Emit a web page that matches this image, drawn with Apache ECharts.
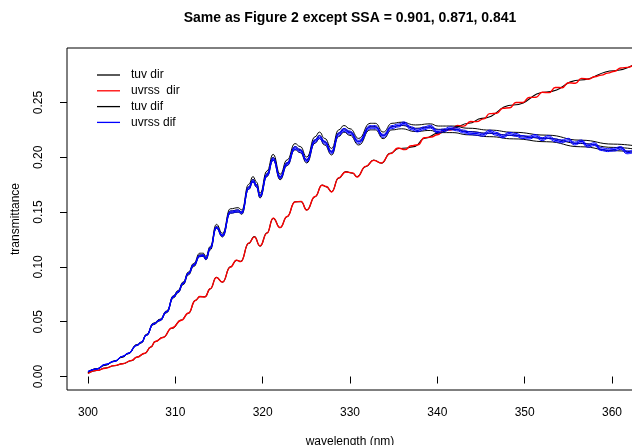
<!DOCTYPE html>
<html>
<head>
<meta charset="utf-8">
<script src="https://cdn.jsdelivr.net/npm/echarts@6/dist/echarts.min.js"></script>
<style>html,body{margin:0;padding:0;background:#fff}#c{width:632px;height:445px}</style>
</head>
<body>
<div id="c"></div>
<script>
// ---- data ----
var xTicks = [300, 310, 320, 330, 340, 350, 360];
var yTicks = [0, 0.05, 0.10, 0.15, 0.20, 0.25];
var legendNames = ['tuv dir', 'uvrss  dir', 'tuv dif', 'uvrss dif'];

// direct transmittance (tuv)
var dirWl = [300,301,302,303,304,305,305.6,306.5,307.2,307.7,308.6,309.6,310.7,311.5,312.3,312.8,313.4,314.0,314.7,315.4,316.3,317.0,317.5,318.4,319.05,319.7,320.5,321.2,322.0,322.8,323.7,324.4,325.05,326.0,326.8,327.3,327.9,328.7,329.5,330.3,330.8,331.8,332.7,333.6,334.6,335.6,336.5,337.3,338.6,340.1,341.7,343.6,345.1,348.7,352.5,356.4,360.2,362.5];
var tuvDir = [0.003,0.0055,0.0078,0.0098,0.0118,0.0145,0.0178,0.021,0.027,0.0318,0.0358,0.044,0.0516,0.0577,0.0695,0.0728,0.0728,0.080,0.0905,0.086,0.100,0.106,0.105,0.1215,0.1276,0.119,0.131,0.1443,0.136,0.1458,0.1595,0.1595,0.152,0.164,0.1747,0.173,0.1686,0.181,0.1869,0.1855,0.1823,0.1914,0.1975,0.1945,0.2036,0.208,0.2085,0.2097,0.2173,0.222,0.2265,0.231,0.2355,0.2477,0.2596,0.2705,0.279,0.2845];

// direct transmittance (uvrss), noisy tail
var uvDirWl = [300,301,302,303,304,305,305.6,306.5,307.2,307.7,308.6,309.6,310.7,311.5,312.3,312.8,313.4,314.0,314.7,315.4,316.3,317.0,317.5,318.4,319.05,319.7,320.5,321.2,322.0,322.8,323.7,324.4,325.05,326.0,326.8,327.3,327.9,328.7,329.5,330.3,330.8,331.8,332.7,333.6,334.6,
  335.5,336.3,337,337.8,338.5,339.3,340,340.8,341.5,342.3,343,343.8,344.5,345.3,346,346.8,347.5,348.3,349,349.8,350.5,351.3,352,352.8,353.5,354.3,355,355.8,356.5,357.3,358,358.8,359.5,360.3,361,361.8,362.5];
var uvrssDir = [0.0028,0.0056,0.0076,0.0099,0.0117,0.0147,0.0176,0.0212,0.0268,0.032,0.0356,0.0442,0.0514,0.0579,0.0693,0.073,0.0726,0.0802,0.0903,0.0862,0.0998,0.1062,0.1048,0.1217,0.1274,0.1192,0.1308,0.1445,0.1358,0.146,0.1592,0.1598,0.1518,0.1642,0.1745,0.1733,0.1684,0.1812,0.1866,0.1858,0.182,0.1917,0.1972,0.1948,0.2033,
  0.2085,0.207,0.2105,0.2115,0.2178,0.2185,0.2205,0.2252,0.2248,0.229,0.2284,0.2326,0.2325,0.235,0.2398,0.2402,0.2448,0.2452,0.25,0.25,0.2546,0.2548,0.2593,0.259,0.2637,0.2635,0.268,0.2675,0.272,0.2712,0.2735,0.275,0.2768,0.2785,0.2815,0.282,0.2848];

// diffuse transmittance (tuv) for SSA = 0.901, 0.871, 0.841
var difWl = [300,301,302,303,304,304.6,305.6,306.1,306.7,307.5,308.25,309.0,309.8,310.3,310.9,311.5,312.1,312.8,313.2,313.5,314.0,314.7,315.4,316.3,317.2,317.6,318.4,318.9,319.3,319.7,320.5,321.2,322.0,322.8,323.7,324.3,325.05,326.0,326.5,327.1,327.9,328.7,329.3,330.0,331.0,332.3,332.9,333.8,334.8,335.9,337.5,339.2,340.1,341.7,343.6,346.0,348.7,352.5,356.4,360.2,362.5];
var tuvDif901 = [0.0041,0.0071,0.0107,0.0142,0.0183,0.0213,0.0291,0.0314,0.0385,0.0487,0.0523,0.0598,0.0738,0.0784,0.0862,0.0953,0.1031,0.1125,0.1125,0.1095,0.1186,0.1388,0.1307,0.153,0.154,0.152,0.1753,0.1824,0.1774,0.1672,0.1875,0.2027,0.1845,0.1976,0.2125,0.2098,0.2002,0.2187,0.223,0.2172,0.2081,0.2249,0.229,0.226,0.2172,0.231,0.231,0.223,0.231,0.232,0.2295,0.2305,0.2285,0.2285,0.2265,0.2248,0.2228,0.2202,0.2156,0.212,0.2106];
var tuvDif871 = [0.004,0.007,0.0105,0.014,0.018,0.021,0.0287,0.031,0.038,0.048,0.0516,0.059,0.0728,0.0774,0.085,0.094,0.1017,0.111,0.111,0.108,0.117,0.137,0.129,0.151,0.152,0.150,0.173,0.180,0.175,0.165,0.185,0.200,0.182,0.195,0.2097,0.207,0.1975,0.2158,0.220,0.2142,0.2051,0.2219,0.226,0.223,0.2142,0.228,0.228,0.220,0.228,0.229,0.2265,0.2275,0.2255,0.2255,0.2235,0.2218,0.2198,0.2172,0.2126,0.209,0.2076];
var tuvDif841 = [0.0039,0.0069,0.0103,0.0138,0.0177,0.0207,0.0283,0.0306,0.0375,0.0473,0.0509,0.0582,0.0718,0.0764,0.0838,0.0927,0.1003,0.1095,0.1095,0.1065,0.1154,0.1352,0.1273,0.149,0.150,0.148,0.1707,0.1776,0.1726,0.1628,0.1825,0.1973,0.1795,0.1924,0.2069,0.2042,0.1948,0.2129,0.217,0.2112,0.2021,0.2189,0.223,0.220,0.2112,0.225,0.225,0.217,0.225,0.226,0.2235,0.2245,0.2225,0.2225,0.2205,0.2188,0.2168,0.2142,0.2096,0.206,0.2046];

// diffuse transmittance (uvrss) for SSA = 0.901, 0.871, 0.841, noisy tail
var uvDifWl = [300,301,302,303,304,304.6,305.6,306.1,306.7,307.5,308.25,309.0,309.8,310.3,310.9,311.5,312.1,312.8,313.2,313.5,314.0,314.7,315.4,316.3,317.2,317.6,318.4,318.9,319.3,319.7,320.5,321.2,322.0,322.8,323.7,324.3,325.05,326.0,326.5,327.1,327.9,328.7,329.3,330.0,331.0,332.3,332.9,333.8,334.8,
  335.5,336.2,337,337.7,338.5,339.2,340,340.7,341.5,342.2,343,343.7,344.5,345.2,346,346.7,347.5,348.2,349,349.7,350.5,351.2,352,352.7,353.5,354.2,355,355.7,356.5,357.2,358,358.7,359.5,360.2,361,361.7,362.5];
var uvDif901 = [0.0046,0.0069,0.0111,0.0139,0.0186,0.0213,0.0287,0.0314,0.038,0.0483,0.0517,0.0594,0.0733,0.0777,0.0855,0.0946,0.1023,0.1107,0.1112,0.1082,0.1177,0.1368,0.1293,0.1509,0.1519,0.1504,0.173,0.1796,0.1751,0.1655,0.1851,0.1997,0.1826,0.1952,0.2098,0.2073,0.1982,0.2161,0.2198,0.2148,0.2058,0.2224,0.2264,0.2239,0.2154,0.2289,0.2289,0.2209,0.2289,
  0.2303,0.2323,0.2278,0.2258,0.2278,0.2293,0.2248,0.2258,0.2278,0.2268,0.2248,0.2233,0.2228,0.2218,0.2248,0.2228,0.2203,0.2228,0.2218,0.2198,0.2193,0.2208,0.2178,0.2198,0.2168,0.2158,0.2173,0.2138,0.2158,0.2118,0.2133,0.2088,0.2078,0.2083,0.2098,0.2058,0.2068];
var uvDif871 = [0.0045,0.0068,0.011,0.0138,0.0185,0.0212,0.0285,0.0312,0.0378,0.048,0.0514,0.059,0.0728,0.0772,0.085,0.094,0.1017,0.110,0.1105,0.1075,0.117,0.136,0.1285,0.150,0.151,0.1495,0.172,0.1785,0.174,0.1645,0.184,0.1985,0.1815,0.194,0.2085,0.206,0.197,0.2148,0.2185,0.2135,0.2045,0.221,0.225,0.2225,0.214,0.2275,0.2275,0.2195,0.2275,
  0.229,0.231,0.2265,0.2245,0.2265,0.228,0.2235,0.2245,0.2265,0.2255,0.2235,0.222,0.2215,0.2205,0.2235,0.2215,0.219,0.2215,0.2205,0.2185,0.218,0.2195,0.2165,0.2185,0.2155,0.2145,0.216,0.2125,0.2145,0.2105,0.212,0.2075,0.2065,0.207,0.2085,0.2045,0.2055];
var uvDif841 = [0.0044,0.0067,0.0109,0.0137,0.0184,0.0211,0.0283,0.031,0.0376,0.0477,0.0511,0.0586,0.0723,0.0767,0.0845,0.0934,0.1011,0.1093,0.1098,0.1068,0.1163,0.1352,0.1277,0.1491,0.1501,0.1486,0.171,0.1774,0.1729,0.1635,0.1829,0.1973,0.1804,0.1928,0.2072,0.2047,0.1958,0.2135,0.2172,0.2122,0.2032,0.2196,0.2236,0.2211,0.2126,0.2261,0.2261,0.2181,0.2261,
  0.2277,0.2297,0.2252,0.2232,0.2252,0.2267,0.2222,0.2232,0.2252,0.2242,0.2222,0.2207,0.2202,0.2192,0.2222,0.2202,0.2177,0.2202,0.2192,0.2172,0.2167,0.2182,0.2152,0.2172,0.2142,0.2132,0.2147,0.2112,0.2132,0.2092,0.2107,0.2062,0.2052,0.2057,0.2072,0.2032,0.2042];

// ---- chart ----
function pairs(xs, ys) { return xs.map(function (x, i) { return [x, ys[i]]; }); }
var FONT = 'Liberation Sans, Arial, Helvetica, sans-serif';
function line(name, xs, ys, color, w) {
  return {
    type: 'line', name: name, data: pairs(xs, ys),
    symbol: 'none', showSymbol: false, smooth: 0.5, smoothMonotone: 'x',
    lineStyle: { color: color, width: w }, itemStyle: { color: color },
    emphasis: { disabled: true }, silent: true, clip: true
  };
}
var chart = echarts.init(document.getElementById('c'), null, { renderer: 'canvas' });
chart.setOption({
  animation: false,
  backgroundColor: '#ffffff',
  grid: { left: 67, right: -1, top: 48, bottom: 55, containLabel: false, outerBoundsMode: 'none',
    show: true, borderColor: '#000', borderWidth: 1, backgroundColor: 'transparent' },
  graphic: [{
    type: 'text', x: 350, y: 11,
    style: { text: 'Same as Figure 2 except SSA = 0.901, 0.871, 0.841', font: 'bold 14px ' + FONT, fill: '#000', align: 'center', textAlign: 'center' }
  }],
  legend: {
    data: legendNames, orient: 'vertical', left: 97, top: 69, padding: 0,
    icon: 'rect', itemWidth: 23, itemHeight: 1.3, itemGap: 3.8,
    textStyle: { fontFamily: FONT, fontSize: 12, color: '#000', lineHeight: 12, padding: [0, 0, 0, 6] },
    selectedMode: false
  },
  xAxis: {
    type: 'value', min: 297.6, max: 362.4,
    name: 'wavelength (nm)', nameLocation: 'middle', nameGap: 46,
    nameTextStyle: { fontFamily: FONT, fontSize: 12, color: '#000' },
    axisLine: { show: false },
    axisTick: { show: true, length: 7, lineStyle: { color: '#000' }, customValues: xTicks },
    axisLabel: { fontFamily: FONT, fontSize: 12, color: '#000', margin: 17, customValues: xTicks },
    splitLine: { show: false }
  },
  yAxis: {
    type: 'value', min: -0.0123, max: 0.2997,
    name: 'transmittance', nameLocation: 'middle', nameGap: 45, nameRotate: 90,
    nameTextStyle: { fontFamily: FONT, fontSize: 12, color: '#000' },
    axisLine: { show: false },
    axisTick: { show: true, length: 7, lineStyle: { color: '#000' }, customValues: yTicks },
    axisLabel: { fontFamily: FONT, fontSize: 12, color: '#000', margin: 22, rotate: 90, customValues: yTicks,
      formatter: function (v) { return v.toFixed(2); } },
    splitLine: { show: false }
  },
  series: [
    line(legendNames[0], dirWl, tuvDir, '#000000', 1.1),
    line(legendNames[1], uvDirWl, uvrssDir, '#ff0000', 1.4),
    line(legendNames[2], difWl, tuvDif901, '#000000', 1),
    line(legendNames[2], difWl, tuvDif871, '#000000', 1),
    line(legendNames[2], difWl, tuvDif841, '#000000', 1),
    line(legendNames[3], uvDifWl, uvDif901, '#0000ff', 1),
    line(legendNames[3], uvDifWl, uvDif871, '#0000ff', 1.2),
    line(legendNames[3], uvDifWl, uvDif841, '#0000ff', 1)
  ]
});
</script>
</body>
</html>
